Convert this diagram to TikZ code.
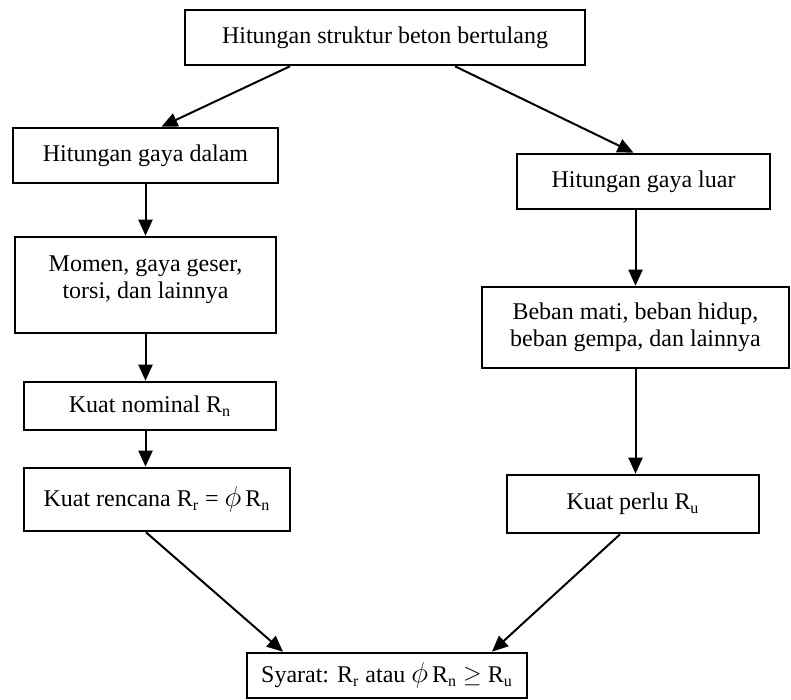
\documentclass[tikz,border=0pt]{standalone}
\usepackage{fontspec}
\setmainfont{Liberation Serif}
\usetikzlibrary{arrows.meta}

\begin{document}
\begin{tikzpicture}[
  x=0.5pt,y=-0.5pt,
  box/.style={draw,line width=1.3pt,align=center,inner sep=2pt,
              font=\fontsize{12}{13.5}\selectfont},
  arr/.style={-{Triangle[length=8pt,width=7pt]},line width=1pt}
]
\useasboundingbox (0,0) rectangle (791,700);

% top
\node[box,minimum width=200pt,minimum height=27.5pt] (top) at (385,37.5)
      {Hitungan struktur beton bertulang};

% left branch
\node[box,minimum width=132.5pt,minimum height=27.5pt] (dalam) at (145.5,155.5)
      {Hitungan gaya dalam};
\node[box,minimum width=130.5pt,minimum height=48pt] (momen) at (145.5,285)
      {Momen, gaya geser,\\torsi, dan lainnya\\[-5.5pt]};
\node[box,minimum width=126pt,minimum height=24pt] (nominal) at (150,406)
      {Kuat nominal R\textsubscript{n}};
\node[box,minimum width=133pt,minimum height=31.5pt] (rencana) at (157,499.5)
      {Kuat rencana R\textsubscript{r} = {\Large$\phi$}\,R\textsubscript{n}};

% right branch
\node[box,minimum width=126.5pt,minimum height=27.5pt] (luar) at (643.5,181.5)
      {Hitungan gaya luar};
\node[box,minimum width=153.5pt,minimum height=40.5pt] (beban) at (635.5,327.5)
      {Beban mati, beban hidup,\\beban gempa, dan lainnya};
\node[box,minimum width=126pt,minimum height=29pt] (perlu) at (633,504)
      {Kuat perlu R\textsubscript{u}};

% condition
\node[box,minimum width=140pt,minimum height=22.5pt] (syarat) at (387,675.5)
      {Syarat: R\textsubscript{r} atau {\Large$\phi$}\,R\textsubscript{n} $\geq$ R\textsubscript{u}};

\draw[arr] ([xshift=-47.5pt]top.south) -- ([xshift=8pt]dalam.north);
\draw[arr] ([xshift=35pt]top.south) -- ([xshift=-5pt]luar.north);
\draw[arr] (dalam) -- (momen);
\draw[arr] (momen.south) -- (momen.south |- nominal.north);
\draw[arr] (momen.south |- nominal.south) -- (momen.south |- rencana.north);
\draw[arr] (luar.south -| beban.north) -- (beban.north);
\draw[arr] (beban.south) -- (beban.south |- perlu.north);
\draw[arr] ([xshift=-5.5pt]rencana.south) -- ([xshift=-52pt]syarat.north);
\draw[arr] ([xshift=-6.5pt]perlu.south) -- ([xshift=52.5pt]syarat.north);
\end{tikzpicture}
\end{document}
